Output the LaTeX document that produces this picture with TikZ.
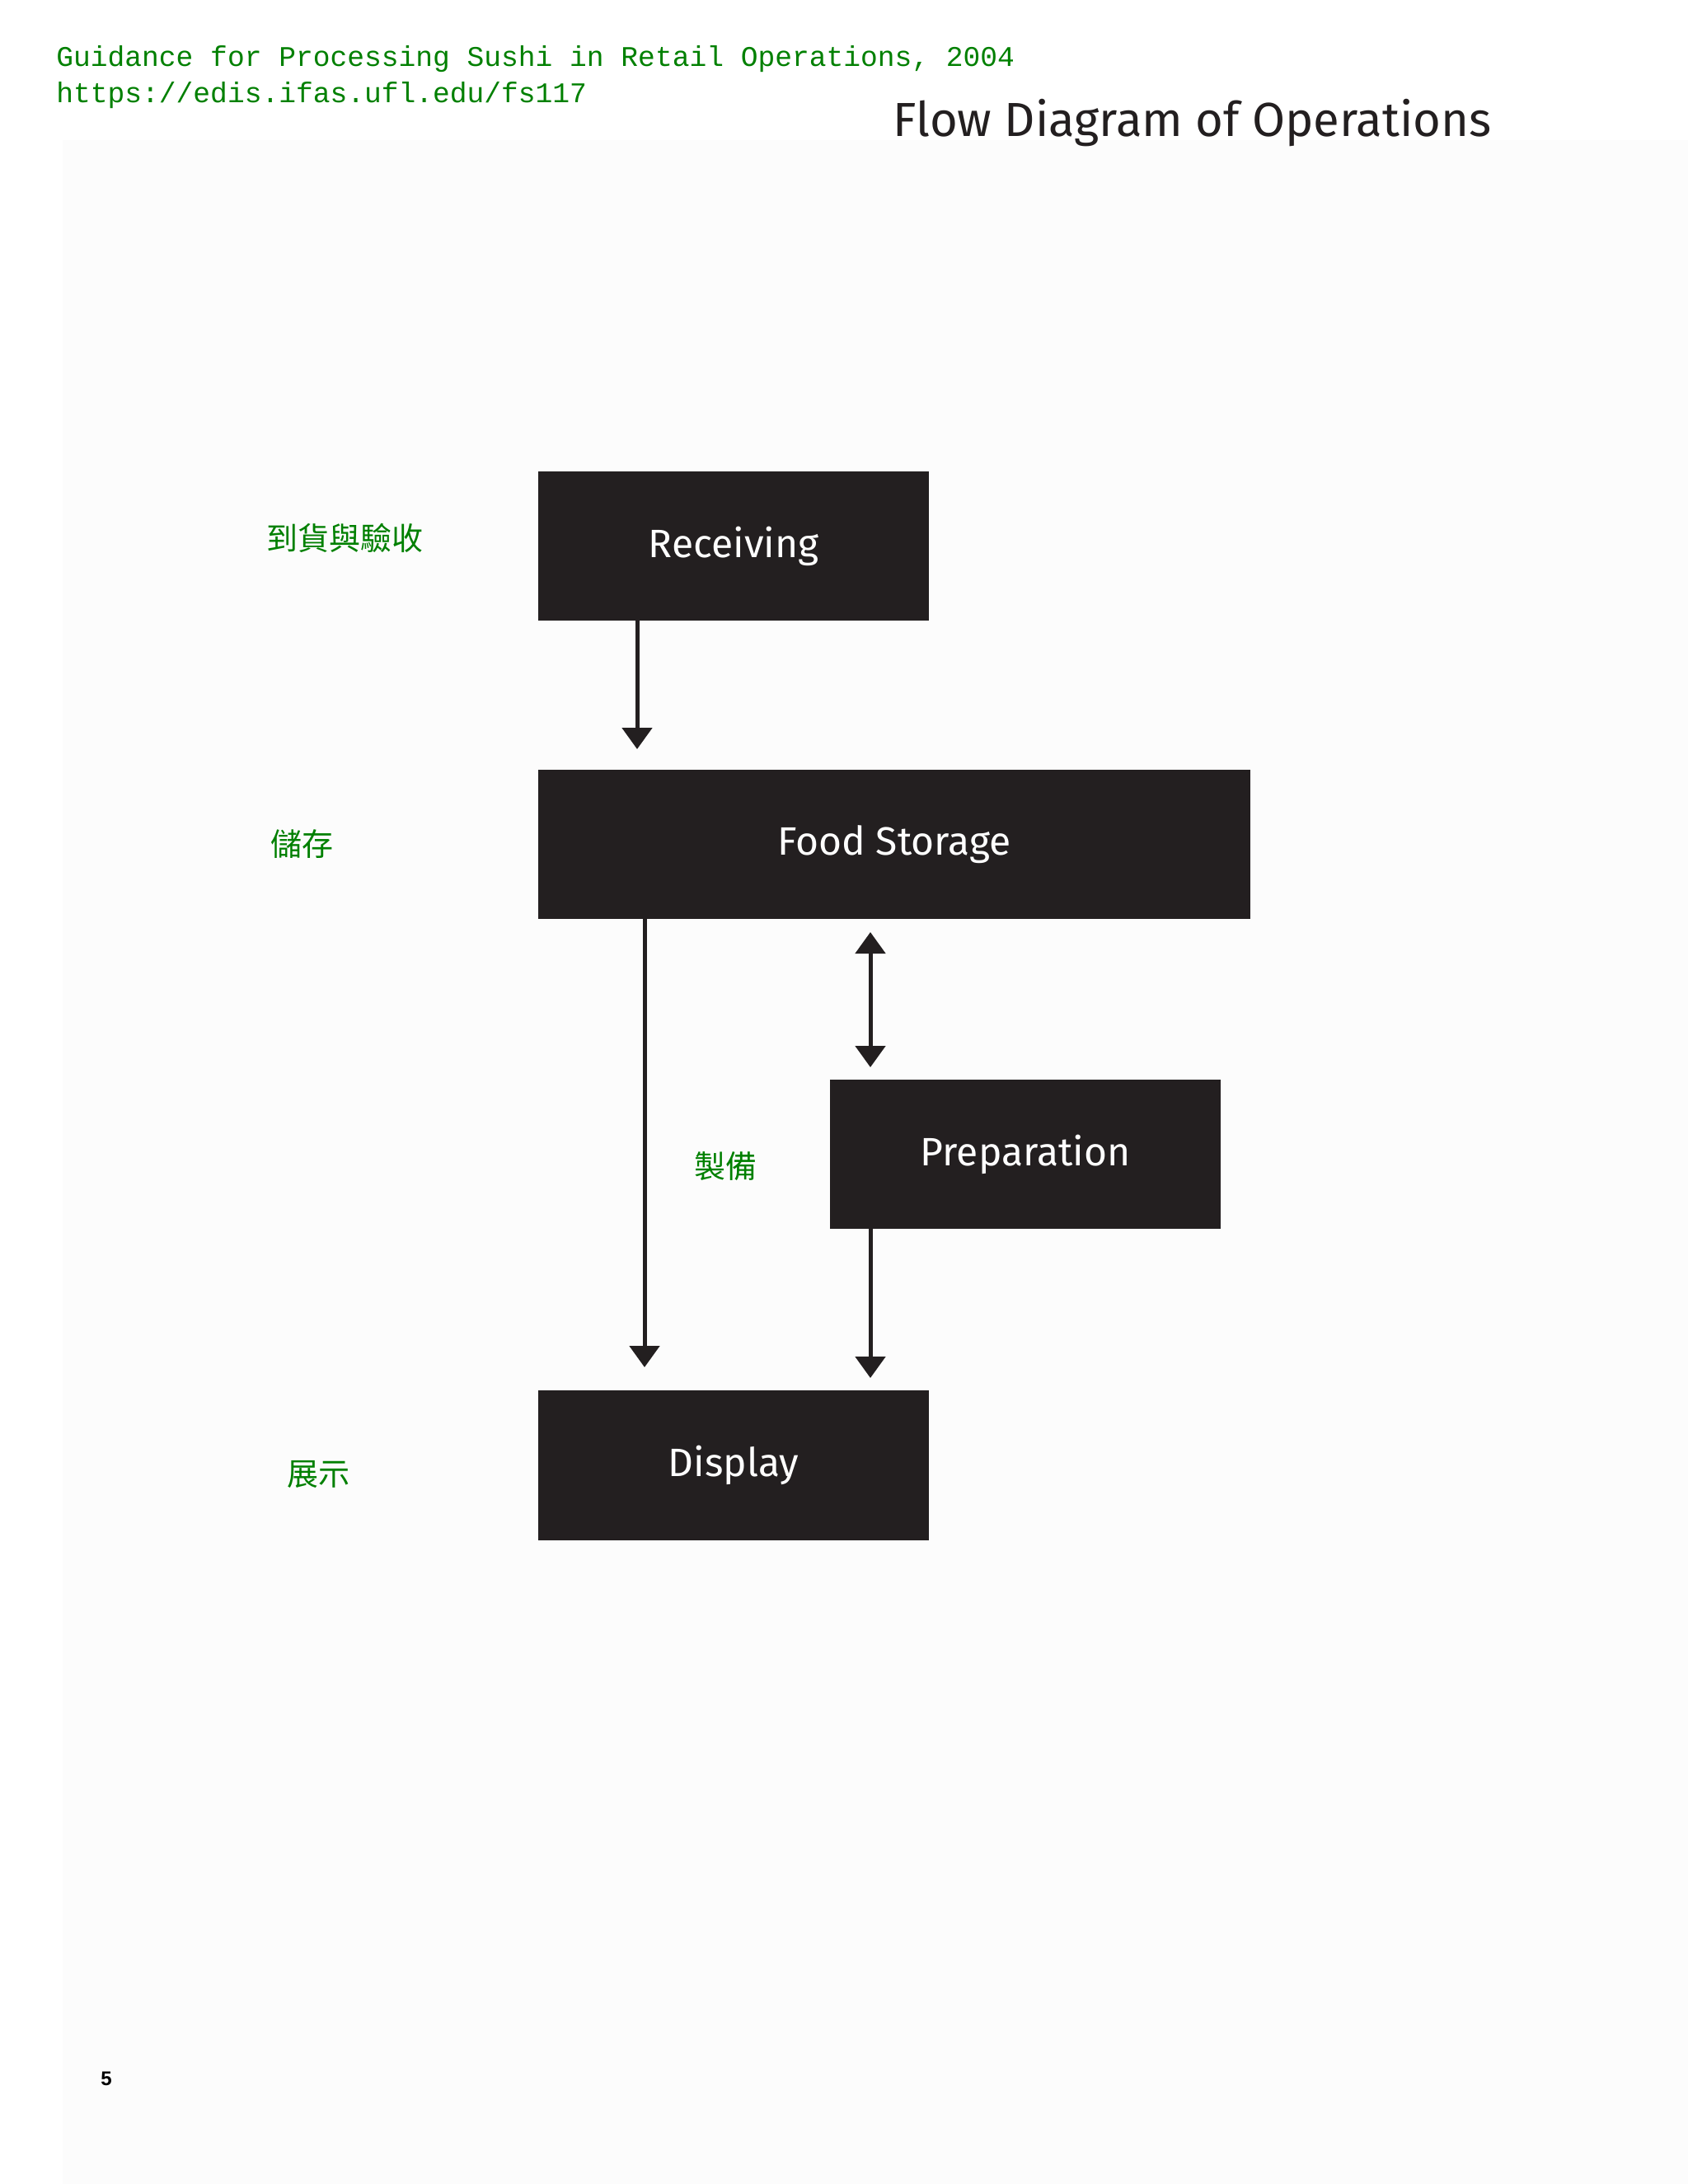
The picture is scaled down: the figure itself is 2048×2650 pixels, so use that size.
\documentclass[tikz,border=0pt]{standalone}
\usepackage{fontspec}
\setmainfont{Fira Sans}
\newfontfamily\monof{Liberation Mono}
\newfontfamily\cjk{Noto Sans CJK TC}
\newfontfamily\arialf{Liberation Sans}
\usetikzlibrary{arrows.meta}
\definecolor{boxc}{HTML}{231F20}
\definecolor{grn}{RGB}{0,128,0}
\begin{document}
\begin{tikzpicture}[x=0.5pt,y=-0.5pt,
  stepbox/.style={fill=boxc,draw=none,text=white,font=\fontsize{24}{28}\selectfont},
  lab/.style={text=grn,font=\cjk\fontsize{19}{22}\selectfont},
  arr/.style={draw=boxc,line width=2.5pt,-{Triangle[width=18pt,length=13pt]}},
  darr/.style={draw=boxc,line width=2.5pt,{Triangle[width=18pt,length=13pt]}-{Triangle[width=18pt,length=13pt]}}]
\useasboundingbox[fill=white] (0,0) rectangle (2048,2650);
\fill[black!1] (76,170) rectangle (2048,2650);
\node[anchor=base west,text=grn,font=\monof\fontsize{17.3}{20}\selectfont,inner sep=0] (h1) at (68,80) {Guidance for Processing Sushi in Retail Operations, 2004};
\node[anchor=base west,text=grn,font=\monof\fontsize{17.3}{20}\selectfont,inner sep=0] (h2) at (68,124) {https://edis.ifas.ufl.edu/fs117};
\node[anchor=west,text=boxc,font=\fontsize{29}{34}\selectfont,inner sep=0] (title) at (1083,149) {Flow Diagram of Operations};
\path[stepbox] (653,572) rectangle (1127,753) node[midway] (rec) {Receiving};
\path[stepbox] (653,934) rectangle (1517,1115) node[midway] (sto) {Food Storage};
\path[stepbox] (1007,1310) rectangle (1481,1491) node[midway] (prep) {Preparation};
\path[stepbox] (653,1687) rectangle (1127,1869) node[midway] (disp) {Display};
\coordinate (a1s) at (773,753); \coordinate (a1e) at (773,909);
\coordinate (a2s) at (782,1115); \coordinate (a2e) at (782,1659);
\coordinate (a3s) at (1056,1131); \coordinate (a3e) at (1056,1295);
\coordinate (a4s) at (1056,1491); \coordinate (a4e) at (1056,1672);
\draw[arr] (a1s) -- (a1e);
\draw[arr] (a2s) -- (a2e);
\draw[darr] (a3s) -- (a3e);
\draw[arr] (a4s) -- (a4e);
\node[lab] (l1) at (418,653) {到貨與驗收};
\node[lab] (l2) at (366,1024) {儲存};
\node[lab] (l3) at (880,1415) {製備};
\node[lab] (l4) at (386,1789) {展示};
\node[font=\arialf\bfseries\fontsize{12}{14}\selectfont] (pg) at (129,2522) {5};
\end{tikzpicture}
\end{document}
